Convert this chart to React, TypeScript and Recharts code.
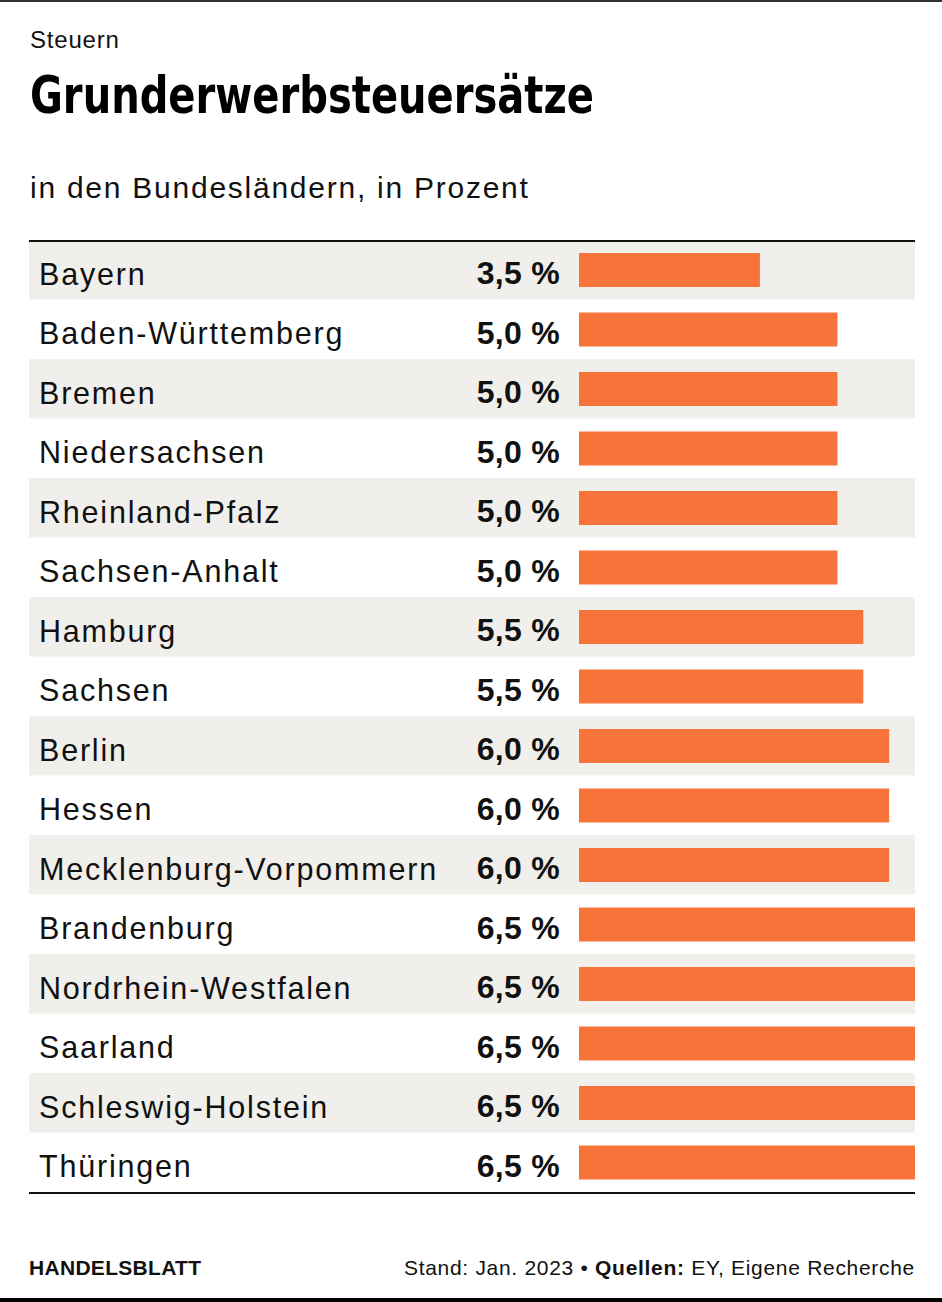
import React from 'react';
import { BarChart, Bar, XAxis, YAxis, ReferenceArea, LabelList } from 'recharts';

const categories = [
  'Bayern', 'Baden-Württemberg', 'Bremen', 'Niedersachsen', 'Rheinland-Pfalz',
  'Sachsen-Anhalt', 'Hamburg', 'Sachsen', 'Berlin', 'Hessen',
  'Mecklenburg-Vorpommern', 'Brandenburg', 'Nordrhein-Westfalen', 'Saarland',
  'Schleswig-Holstein', 'Thüringen',
];
const rates = [3.5, 5.0, 5.0, 5.0, 5.0, 5.0, 5.5, 5.5, 6.0, 6.0, 6.0, 6.5, 6.5, 6.5, 6.5, 6.5];
const maxRate = 6.5;

const kicker = 'Steuern';
const title = 'Grunderwerbsteuersätze';
const subtitle = 'in den Bundesländern, in Prozent';
const brand = 'HANDELSBLATT';
const sourcePrefix = 'Stand: Jan. 2023 • ';
const sourceBold = 'Quellen:';
const sourceRest = ' EY, Eigene Recherche';

const data = categories.map((name, i) => ({ name, value: rates[i] }));

const W = 942;
const H = 1302;
const TABLE_LEFT = 29;
const TABLE_RIGHT = 915;
const BAR_START = 579;
const TABLE_TOP = 240;
const TABLE_BOTTOM = 1192;

const xMin = -maxRate * (BAR_START - TABLE_LEFT) / (TABLE_RIGHT - BAR_START);

const FONT = "'Liberation Sans', Arial, Helvetica, sans-serif";
const INK = '#111111';
const ORANGE = '#f6733a';
const STRIPE = '#f0efeb';

const fmt = (v: number) => v.toFixed(1).replace('.', ',') + ' %';

const NameLabel = (props: any) => {
  const { y, height, value } = props;
  return (
    <text x={39} y={Number(y) + Number(height) / 2 + 14.5} fill={INK} fontFamily={FONT} fontSize={30.5} letterSpacing={1.8} textAnchor="start">
      {value}
    </text>
  );
};

export default function App() {
  return (
    <div style={{ position: 'absolute', left: 0, top: 0, width: W, height: H, background: '#fff' }}>
      <svg width={W} height={H} style={{ position: 'absolute', left: 0, top: 0 }}>
        <rect x={0} y={0} width={W} height={2} fill="#333" />
        <rect x={0} y={H - 4} width={W} height={4} fill="#000" />
        <text x={30} y={48} fontFamily={FONT} fontSize={24} fill={INK} letterSpacing={0.8}>{kicker}</text>
        <text
          x={30}
          y={113}
          fontFamily="'Liberation Sans Narrow', 'DejaVu Sans Condensed', 'Roboto Condensed', 'Liberation Sans', sans-serif"
          fontWeight={700}
          fontSize={52}
          fill="#000"
          textLength={564}
          lengthAdjust="spacingAndGlyphs"
        >
          {title}
        </text>
        <text x={30} y={198} fontFamily={FONT} fontSize={30} fill={INK} letterSpacing={1.75}>{subtitle}</text>
        <text x={29} y={1275} fontFamily={FONT} fontSize={21} fontWeight={700} fill={INK} letterSpacing={0.3}>{brand}</text>
        <text x={915} y={1275} fontFamily={FONT} fontSize={21} fill={INK} textAnchor="end" letterSpacing={0.7}>
          <tspan>{sourcePrefix}</tspan>
          <tspan fontWeight={700}>{sourceBold}</tspan>
          <tspan>{sourceRest}</tspan>
        </text>
      </svg>
      <div style={{ position: 'absolute', left: 0, top: 0 }}>
        <BarChart
          width={W}
          height={H}
          data={data}
          layout="vertical"
          margin={{ top: TABLE_TOP, bottom: H - TABLE_BOTTOM, left: TABLE_LEFT, right: W - TABLE_RIGHT }}
          barCategoryGap={0}
        >
          <XAxis type="number" domain={[xMin, maxRate]} allowDataOverflow hide />
          <YAxis type="category" dataKey="name" width={0} hide />
          {categories.map((c, i) =>
            i % 2 === 0 ? (
              <ReferenceArea key={c} y1={c} y2={c} fill={STRIPE} fillOpacity={1} stroke="none" ifOverflow="visible" />
            ) : null
          )}
          <Bar dataKey="value" fill={ORANGE} barSize={34} isAnimationActive={false}>
            <LabelList dataKey="name" content={<NameLabel />} />
            <LabelList
              dataKey="value"
              position="left"
              offset={19}
              formatter={(v: any) => fmt(Number(v))}
              fill={INK}
              fontFamily={FONT}
              fontSize={32}
              fontWeight={700}
              letterSpacing={0.3}
              dy={3}
            />
          </Bar>
        </BarChart>
      </div>
      <div style={{ position: 'absolute', left: TABLE_LEFT, top: TABLE_TOP, width: TABLE_RIGHT - TABLE_LEFT, height: 2, background: '#111' }} />
      <div style={{ position: 'absolute', left: TABLE_LEFT, top: TABLE_BOTTOM, width: TABLE_RIGHT - TABLE_LEFT, height: 2, background: '#111' }} />
    </div>
  );
}
